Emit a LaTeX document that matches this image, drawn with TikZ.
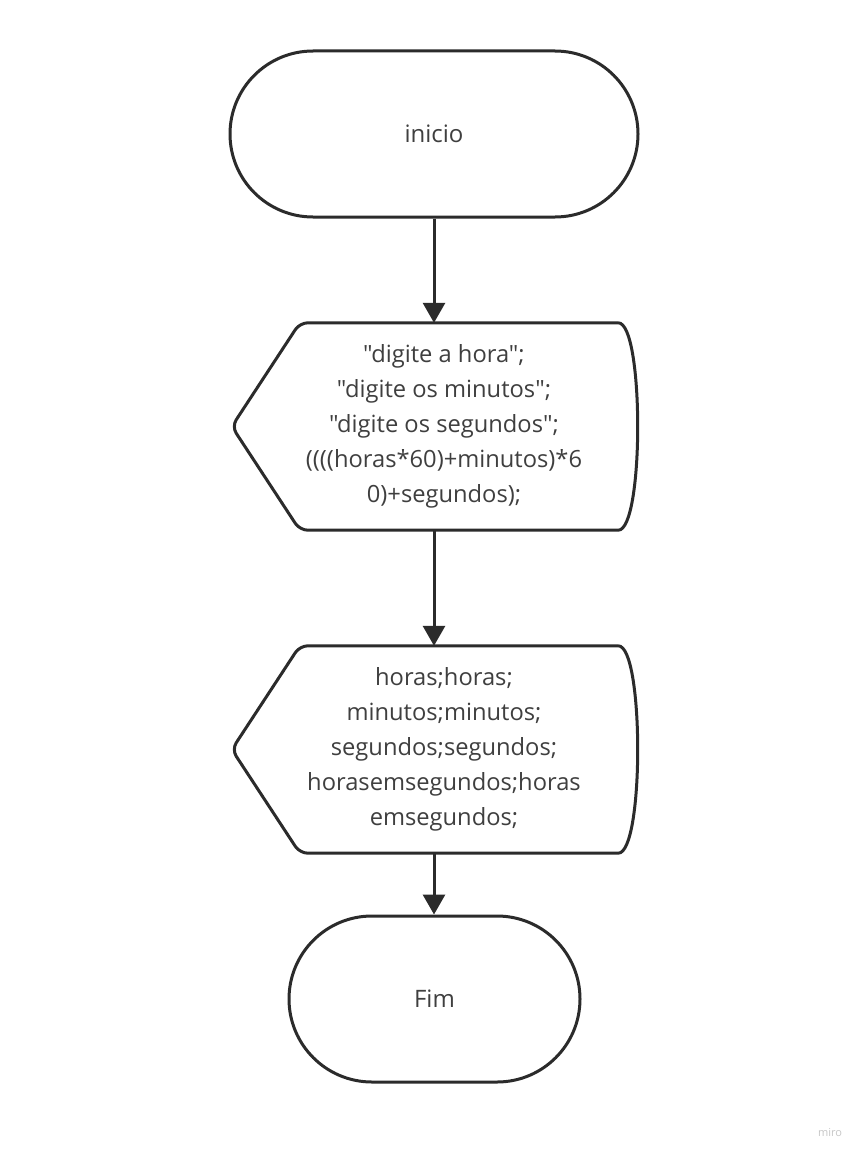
\documentclass[tikz,border=0pt]{standalone}
\usepackage{fontspec}
\setmainfont{Open Sans}[Ligatures=TeXOff]
\usetikzlibrary{arrows.meta}
\definecolor{stroke}{HTML}{2B2B2B}
\definecolor{txt}{HTML}{3F3F3F}
\begin{document}
\begin{tikzpicture}[x=1pt,y=-1pt,
  shapeline/.style={draw=stroke,line width=3pt,line join=round},
  term/.style={shapeline,rectangle,rounded corners=83pt,minimum width=#1,minimum height=166pt,inner sep=0pt,text=txt,font=\fontsize{24}{35}\selectfont},
  disp/.style={rectangle,minimum width=406pt,minimum height=207pt,inner sep=0pt},
  disptext/.style={text=txt,align=center,inner sep=0pt,font=\fontsize{23.7}{35}\selectfont},
  flow/.style={draw=stroke,line width=3pt,-{Triangle[length=20pt,width=22pt]}}]
\useasboundingbox (0,0) rectangle (864,1156);
\fill[white] (0,0) rectangle (864,1156);
% terminators
\node[term=408pt] (t1) at (434,134) {inicio};
\node[term=291pt] (t2) at (434.5,999) {Fim};
% display shapes
\node[disp] (d1) at (435,426.5) {};
\node[disptext] (d1t) at (444,426.5) {"digite a hora";\\ "digite os minutos";\\ "digite os segundos";\\ ((((horas*60)+minutos)*6\\ 0)+segundos);};
\node[disp] (d2) at (435,749.5) {};
\node[disptext] (d2t) at (444,749.5) {horas;horas;\\ minutos;minutos;\\ segundos;segundos;\\ horasemsegundos;horas\\ emsegundos;};
\foreach \d in {d1,d2}{
  \draw[shapeline]
    ([xshift=-20pt]\d.north east)
    .. controls ([xshift=6pt]\d.north east) and ([xshift=6pt]\d.south east) .. ([xshift=-20pt]\d.south east)
    [rounded corners=8pt] -- ([xshift=68pt]\d.south west) -- (\d.west) -- ([xshift=68pt]\d.north west) -- ([xshift=-20pt]\d.north east);
}
% connectors
\draw[flow] (t1.south) -- (d1.north -| t1.south);
\draw[flow] (d1.south -| t1.south) -- (d2.north -| t1.south);
\draw[flow] (d2.south -| t1.south) -- (t2.north -| t1.south);
\node[text=black!22,font=\fontsize{11}{13}\selectfont] (wm) at (830,1133) {miro};
\end{tikzpicture}
\end{document}
